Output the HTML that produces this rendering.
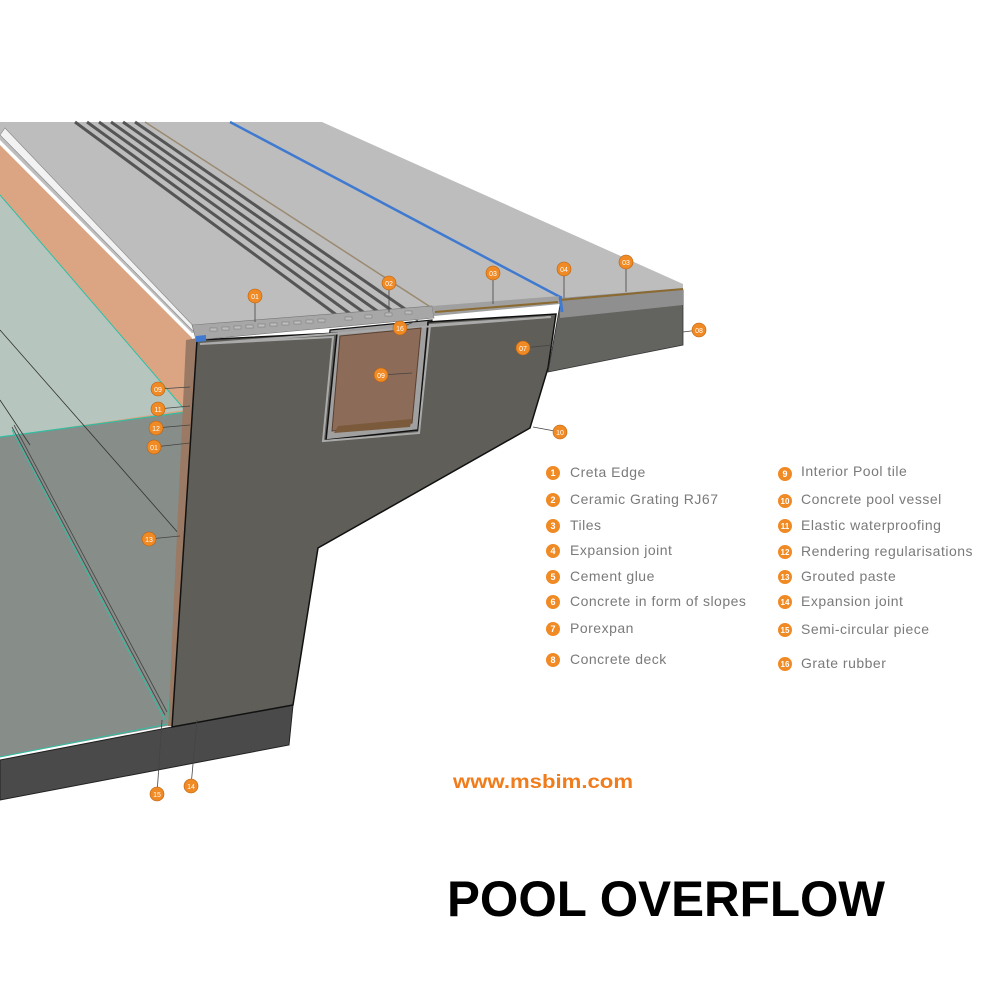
<!DOCTYPE html>
<html><head><meta charset="utf-8"><style>
html,body{margin:0;padding:0;background:#fff}
svg{display:block}
.lg{font-family:"Liberation Sans",sans-serif;font-size:14px;fill:#7a7a7a;letter-spacing:0.5px}
.ln{font-family:"Liberation Sans",sans-serif;font-size:9px;fill:#fff;font-weight:bold}
.cl{font-family:"Liberation Sans",sans-serif;font-size:7px;fill:#fff}
</style></head><body>
<svg width="1005" height="1005" viewBox="0 0 1005 1005" xmlns="http://www.w3.org/2000/svg">
<polygon points="0,145 192,338 192,420 0,440" fill="#dba584"/>
<polygon points="0,195 185,410 0,437" fill="#b6c6bf"/>
<line x1="0" y1="195" x2="185" y2="410" stroke="#2fbfa3" stroke-width="1"/>
<polygon points="0,437 186,412 172,725 0,757" fill="#878d88"/>
<line x1="0" y1="437" x2="186" y2="412" stroke="#2fbfa3" stroke-width="1.2"/>
<line x1="186" y1="412" x2="168" y2="722" stroke="#2fbfa3" stroke-width="1"/>
<line x1="0" y1="757" x2="168" y2="724" stroke="#2fbfa3" stroke-width="1"/>
<line x1="12" y1="430" x2="165" y2="720" stroke="#2fbfa3" stroke-width="1"/>
<line x1="12" y1="427" x2="165" y2="715" stroke="#444" stroke-width="0.8"/>
<line x1="14" y1="425" x2="167" y2="712" stroke="#444" stroke-width="0.8"/>
<line x1="0" y1="330" x2="180" y2="535" stroke="#333" stroke-width="0.8"/>
<line x1="0" y1="400" x2="30" y2="445" stroke="#333" stroke-width="0.8"/>
<polygon points="0,760 172,727 293,705 289,745 0,800" fill="#4a4a4a" stroke="#222" stroke-width="1"/>
<polygon points="186,340 197,338 178,726 168,726" fill="#9a7a64"/>
<!-- channel background -->
<polygon points="330,330 432,320 422,434 322,444" fill="#a0a0a0" stroke="#111" stroke-width="1.2"/>
<polygon points="197,340 337,333 326,440 418,430 428,322 556,314 548,368 530,428 318,548 293,705 172,727" fill="#5f5e59" stroke="#111" stroke-width="1.5"/>
<polygon points="200,344 333,337 323,441 419,433 430,325 551,317" fill="none" stroke="#aaa" stroke-width="2"/>
<polygon points="340,336 421,328 412,423 332,431" fill="#8c6b58" stroke="#5a4030" stroke-width="1"/>
<polygon points="338,426 412,419 410,427 334,433" fill="#7a5a3a"/>
<polygon points="560,305 683,290 683,345 548,372" fill="#636360" stroke="#333" stroke-width="0.8"/>
<polygon points="560,298 683,286 683,305 560,318" fill="#8f8f8f"/>
<line x1="560" y1="300" x2="683" y2="289" stroke="#8a6a30" stroke-width="2"/>
<polygon points="0,122 322,122 683,284 683,288 560,298 432,310 335,318 192,333 0,140" fill="#bdbdbd"/>
<polygon points="0,135 192,330 200,333 5,128" fill="#f2f2f2" stroke="#888" stroke-width="0.6"/>
<g stroke="#555" stroke-width="3">
<line x1="75" y1="122" x2="338" y2="316"/>
<line x1="87" y1="122" x2="352" y2="315"/>
<line x1="99" y1="122" x2="366" y2="314"/>
<line x1="111" y1="122" x2="380" y2="313"/>
<line x1="123" y1="122" x2="394" y2="312"/>
<line x1="135" y1="122" x2="408" y2="311"/>
</g>
<line x1="145" y1="122" x2="432" y2="308" stroke="#9a8a70" stroke-width="1.5"/>
<line x1="230" y1="122" x2="562" y2="298" stroke="#3f7ad0" stroke-width="2.5"/>
<polygon points="192,325 432,306 434,318 196,340" fill="#a7a7a7" stroke="#777" stroke-width="0.6"/>
<g fill="#bdbdbd" stroke="#777" stroke-width="0.5">
<rect x="210" y="328" width="7" height="3"/><rect x="222" y="327" width="7" height="3"/><rect x="234" y="326" width="7" height="3"/><rect x="246" y="325" width="7" height="3"/><rect x="258" y="324" width="7" height="3"/><rect x="270" y="323" width="7" height="3"/><rect x="282" y="322" width="7" height="3"/><rect x="294" y="321" width="7" height="3"/><rect x="306" y="320" width="7" height="3"/><rect x="318" y="319" width="7" height="3"/><rect x="345" y="317" width="7" height="3"/><rect x="365" y="315" width="7" height="3"/><rect x="385" y="313" width="7" height="3"/><rect x="405" y="311" width="7" height="3"/>
</g>
<polygon points="196,336 206,335 206,341 196,342" fill="#3f7ad0"/>
<polygon points="432,306 560,296 560,304 434,316" fill="#a0a0a0"/>
<line x1="435" y1="312" x2="558" y2="302" stroke="#8a6a30" stroke-width="2"/>
<line x1="560" y1="296" x2="562" y2="312" stroke="#3f7ad0" stroke-width="3"/>
<g stroke="#444" stroke-width="0.8">
<line x1="255" y1="296" x2="255" y2="322"/><line x1="389" y1="283" x2="389" y2="312"/>
<line x1="493" y1="273" x2="493" y2="304"/><line x1="564" y1="269" x2="564" y2="298"/>
<line x1="626" y1="262" x2="626" y2="292"/><line x1="699" y1="330" x2="683" y2="332"/>
<line x1="523" y1="348" x2="552" y2="345"/><line x1="381" y1="375" x2="412" y2="373"/>
<line x1="400" y1="328" x2="418" y2="320"/><line x1="560" y1="432" x2="533" y2="427"/>
<line x1="158" y1="389" x2="190" y2="387"/><line x1="158" y1="409" x2="190" y2="406"/>
<line x1="156" y1="428" x2="190" y2="425"/><line x1="154" y1="447" x2="190" y2="443"/>
<line x1="149" y1="539" x2="180" y2="536"/><line x1="157" y1="794" x2="162" y2="720"/>
<line x1="191" y1="786" x2="197" y2="720"/>
</g>
<g fill="#f08a24" stroke="#b86010" stroke-width="0.6">
<circle cx="255" cy="296" r="7"/><circle cx="389" cy="283" r="7"/><circle cx="493" cy="273" r="7"/><circle cx="564" cy="269" r="7"/><circle cx="626" cy="262" r="7"/><circle cx="699" cy="330" r="7"/><circle cx="523" cy="348" r="7"/><circle cx="381" cy="375" r="7"/><circle cx="400" cy="328" r="7"/><circle cx="560" cy="432" r="7"/><circle cx="158" cy="389" r="7"/><circle cx="158" cy="409" r="7"/><circle cx="156" cy="428" r="7"/><circle cx="154" cy="447" r="7"/><circle cx="149" cy="539" r="7"/><circle cx="157" cy="794" r="7"/><circle cx="191" cy="786" r="7"/>
</g>
<g class="cl" text-anchor="middle">
<text x="255" y="299">01</text><text x="389" y="286">02</text><text x="493" y="276">03</text><text x="564" y="272">04</text><text x="626" y="265">03</text><text x="699" y="333">08</text><text x="523" y="351">07</text><text x="381" y="378">09</text><text x="400" y="331">16</text><text x="560" y="435">10</text><text x="158" y="392">09</text><text x="158" y="412">11</text><text x="156" y="431">12</text><text x="154" y="450">01</text><text x="149" y="542">13</text><text x="157" y="797">15</text><text x="191" y="789">14</text>
</g>
<g fill="#f08a24">
<circle cx="553" cy="473" r="7"/><circle cx="553" cy="500" r="7"/><circle cx="553" cy="526" r="7"/><circle cx="553" cy="551" r="7"/><circle cx="553" cy="577" r="7"/><circle cx="553" cy="602" r="7"/><circle cx="553" cy="629" r="7"/><circle cx="553" cy="660" r="7"/>
<circle cx="785" cy="474" r="7"/><circle cx="785" cy="501" r="7"/><circle cx="785" cy="526" r="7"/><circle cx="785" cy="552" r="7"/><circle cx="785" cy="577" r="7"/><circle cx="785" cy="602" r="7"/><circle cx="785" cy="630" r="7"/><circle cx="785" cy="664" r="7"/>
</g>
<g class="ln" text-anchor="middle">
<text x="553" y="476">1</text><text x="553" y="503">2</text><text x="553" y="529">3</text><text x="553" y="554">4</text><text x="553" y="580">5</text><text x="553" y="605">6</text><text x="553" y="632">7</text><text x="553" y="663">8</text>
<text x="785" y="477">9</text><text x="785" y="504" font-size="8">10</text><text x="785" y="529" font-size="8">11</text><text x="785" y="555" font-size="8">12</text><text x="785" y="580" font-size="8">13</text><text x="785" y="605" font-size="8">14</text><text x="785" y="633" font-size="8">15</text><text x="785" y="667" font-size="8">16</text>
</g>
<g class="lg">
<text x="570" y="477">Creta Edge</text><text x="570" y="504">Ceramic Grating RJ67</text><text x="570" y="530">Tiles</text><text x="570" y="555">Expansion joint</text><text x="570" y="581">Cement glue</text><text x="570" y="606">Concrete in form of slopes</text><text x="570" y="633">Porexpan</text><text x="570" y="664">Concrete deck</text>
<text x="801" y="476">Interior Pool tile</text><text x="801" y="504">Concrete pool vessel</text><text x="801" y="530">Elastic waterproofing</text><text x="801" y="556">Rendering regularisations</text><text x="801" y="581">Grouted paste</text><text x="801" y="606">Expansion joint</text><text x="801" y="634">Semi-circular piece</text><text x="801" y="668">Grate rubber</text>
</g>
<text x="453" y="788" font-family="Liberation Sans, sans-serif" font-size="19" font-weight="bold" fill="#f07c1c" textLength="180" lengthAdjust="spacingAndGlyphs">www.msbim.com</text>
<text x="447" y="916" font-family="Liberation Sans, sans-serif" font-size="50" font-weight="bold" fill="#000" textLength="438" lengthAdjust="spacingAndGlyphs">POOL OVERFLOW</text>
</svg>
</body></html>
